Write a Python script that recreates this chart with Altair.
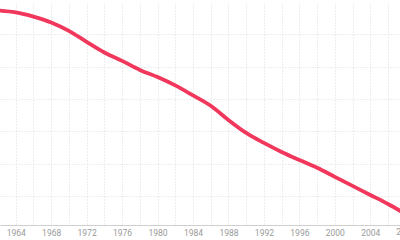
import altair as alt
import pandas as pd

years = [1962, 1964, 1966, 1968, 1970, 1972, 1974, 1976, 1978, 1980, 1982, 1984,
         1986, 1988, 1990, 1992, 1994, 1996, 1998, 2000, 2002, 2004, 2006, 2008]
values = [67.4, 66.8, 65.5, 63.7, 61.1, 57.7, 54.4, 51.8, 49.0, 46.8, 44.2, 41.1,
          37.9, 33.5, 29.5, 26.4, 23.6, 21.1, 18.7, 15.9, 13.1, 10.3, 7.5, 4.4]
grid_years = list(range(1964, 2008, 2))
label_years = list(range(1964, 2008, 4))
y_ticks = [10, 20, 30, 40, 50, 60]
extra_label = ["2008"]
extra_label_year = [2008]

df = pd.DataFrame({"year": years, "value": values})
lab = pd.DataFrame({"year": extra_label_year, "text": extra_label})

W, H = 400, 221
xscale = alt.Scale(domain=[1962.23, 2007.35], nice=False, zero=False)
yscale = alt.Scale(domain=[1.0, 69.4], nice=False, zero=False)
GRID = "#dcdcdc"

yaxis = alt.Axis(values=y_ticks, labels=False, ticks=False, domain=False,
                 grid=True, gridColor=GRID, gridDash=[1, 2], gridWidth=1)

grid_layer = alt.Chart(df).mark_line(opacity=0).encode(
    x=alt.X("year:Q", scale=xscale, title=None,
            axis=alt.Axis(orient="bottom", values=grid_years, labels=False,
                          ticks=False, domain=False,
                          grid=True, gridColor=GRID, gridDash=[1, 2], gridWidth=1)),
    y=alt.Y("value:Q", scale=yscale, title=None, axis=yaxis),
)

line = alt.Chart(df).mark_line(
    color="#F2375C", strokeWidth=3.8, clip=True, interpolate="monotone",
    strokeCap="round"
).encode(
    x=alt.X("year:Q", scale=xscale, title=None,
            axis=alt.Axis(orient="bottom", values=label_years, format="d",
                          ticks=False, grid=False, labelOverlap=False,
                          domainColor="#cfcfcf", domainWidth=1,
                          labelColor="#9a9a9a", labelFontSize=8.5,
                          labelFont="Roboto", labelPadding=3)),
    y=alt.Y("value:Q", scale=yscale, title=None, axis=yaxis),
)

txt = alt.Chart(lab).mark_text(
    color="#9a9a9a", fontSize=8.5, font="Roboto", baseline="top", align="center"
).encode(
    x=alt.X("year:Q", scale=xscale, axis=None),
    y=alt.value(H + 3),
    text="text:N",
)

chart = alt.layer(grid_layer, line, txt).resolve_axis(x="independent").properties(
    width=W, height=H,
    autosize=alt.AutoSizeParams(type="none"),
    padding={"top": 4, "left": 0, "right": 0, "bottom": 15},
).configure_view(stroke=None)

chart.save("out.html", embed_options={"renderer": "svg", "actions": False})
